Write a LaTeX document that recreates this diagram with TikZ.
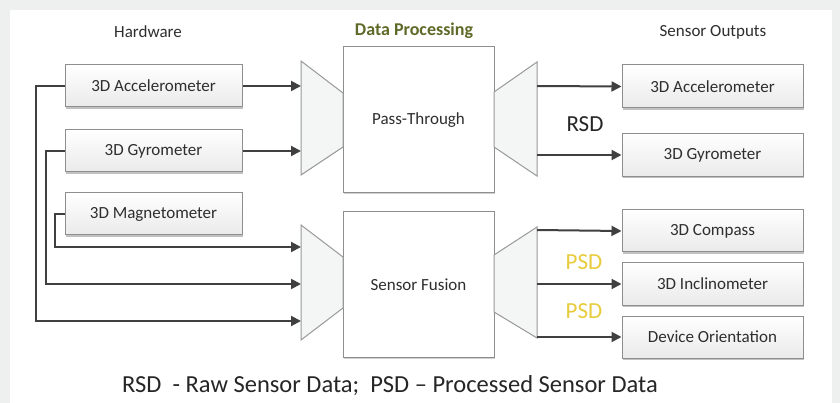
\documentclass[tikz,border=0pt]{standalone}
\usepackage{fontspec}
\setmainfont{Carlito}
\usetikzlibrary{arrows.meta,shadows}
\definecolor{bgouter}{HTML}{EEF0F0}
\definecolor{linec}{HTML}{404040}
\definecolor{boxborder}{HTML}{8E8E8E}
\definecolor{boxbot}{HTML}{EAEAEA}
\definecolor{funfill}{HTML}{F4F5F5}
\definecolor{txt}{HTML}{2E2E2E}
\definecolor{olive}{HTML}{5E6A28}
\definecolor{psdy}{HTML}{E8CC3C}
\tikzset{
  hwbox/.style={draw=boxborder, line width=1pt, top color=white, bottom color=boxbot,
    minimum width=177pt, minimum height=42pt, inner sep=0pt, text=txt,
    font=\fontsize{17}{20}\selectfont,
    drop shadow={shadow xshift=1.2pt, shadow yshift=-2pt, opacity=0.4, fill=black!60}},
  outbox/.style={hwbox, minimum width=181pt},
  procbox/.style={draw=boxborder, line width=1pt, fill=white, text=txt,
    minimum width=151pt, inner sep=0pt, font=\fontsize{17}{20}\selectfont,
    drop shadow={shadow xshift=1pt, shadow yshift=-1.5pt, opacity=0.3, fill=black!60}},
  funnel/.style={draw=boxborder!90, line width=1pt, fill=funfill},
  conn/.style={draw=linec, line width=2pt, -{Triangle[length=10pt,width=10pt]}},
  heading/.style={text=txt, font=\fontsize{17}{20}\selectfont},
  biglabel/.style={font=\fontsize{23}{26}\selectfont}
}
\begin{document}
\begin{tikzpicture}[x=1pt,y=-1pt]
\useasboundingbox (0,0) rectangle (840,403);
\fill[bgouter] (0,0) rectangle (840,403);
\fill[white] (10,10) rectangle (832,403);

% headings
\node[heading] (hw) at (148,32) {Hardware};
\node[heading, text=olive, font=\fontsize{18}{20}\selectfont\bfseries] (dp) at (414,31) {Data Processing};
\node[heading] (so) at (713,32) {Sensor Outputs};

% hardware boxes
\node[hwbox] (hacc) at (153.5,86) {3D Accelerometer};
\node[hwbox] (hgyr) at (153.5,151) {3D Gyrometer};
\node[hwbox] (hmag) at (153.5,214) {3D Magnetometer};

% processing boxes
\node[procbox, minimum height=146pt] (pt) at (418.5,120) {Pass-Through};
\node[procbox, minimum height=145pt] (sf) at (418.5,284.5) {Sensor Fusion};

% funnels
\draw[funnel] (301,61) -- (343,93) -- (343,147) -- (301,175) -- cycle;
\draw[funnel] (494,92) -- (537,62) -- (537,176) -- (494,147) -- cycle;
\draw[funnel] (301,225) -- (343,257) -- (343,308) -- (301,340) -- cycle;
\draw[funnel] (494,255) -- (537,227) -- (537,338) -- (494,312) -- cycle;

% output boxes
\node[outbox, minimum height=43pt] (oacc) at (712.5,86.5) {3D Accelerometer};
\node[outbox, minimum height=43pt] (ogyr) at (712.5,155) {3D Gyrometer};
\node[outbox] (ocmp) at (712.5,231) {3D Compass};
\node[outbox] (oinc) at (712.5,284) {3D Inclinometer};
\node[outbox] (oori) at (712.5,337) {Device Orientation};

% connector end points on funnels
\coordinate (pi1) at (301,86);
\coordinate (pi2) at (301,151);
\coordinate (si1) at (301,247);
\coordinate (si2) at (301,284);
\coordinate (si3) at (301,321);
\coordinate (po1) at (537,86);
\coordinate (po2) at (537,155);
\coordinate (so1) at (537,230);
\coordinate (so2) at (537,284);
\coordinate (so3) at (537,337);
\coordinate (ra) at (36,86);
\coordinate (rg) at (46,151);
\coordinate (rm) at (55,214);

% hardware to pass-through
\draw[conn] (hacc.east) -- (pi1);
\draw[conn] (hgyr.east) -- (pi2);
% hardware to sensor fusion
\draw[conn] (hmag.west) -- (rm) |- (si1);
\draw[conn] (hgyr.west) -- (rg) |- (si2);
\draw[conn] (hacc.west) -- (ra) |- (si3);

% outputs
\draw[conn] (po1) -- (oacc.west);
\draw[conn] (po2) -- (ogyr.west);
\draw[conn] (so1) -- (ocmp.west);
\draw[conn] (so2) -- (oinc.west);
\draw[conn] (so3) -- (oori.west);

% labels
\node[biglabel, text=black!85] (rsd) at (585,124) {RSD};
\node[biglabel, text=psdy] (psd1) at (584,262) {PSD};
\node[biglabel, text=psdy] (psd2) at (584,311) {PSD};

% caption
\node[text=black!85, font=\fontsize{24.5}{28}\selectfont] (cap) at (390,386) {RSD\ \ - Raw Sensor Data;\ \ PSD -- Processed Sensor Data};
\end{tikzpicture}
\end{document}
